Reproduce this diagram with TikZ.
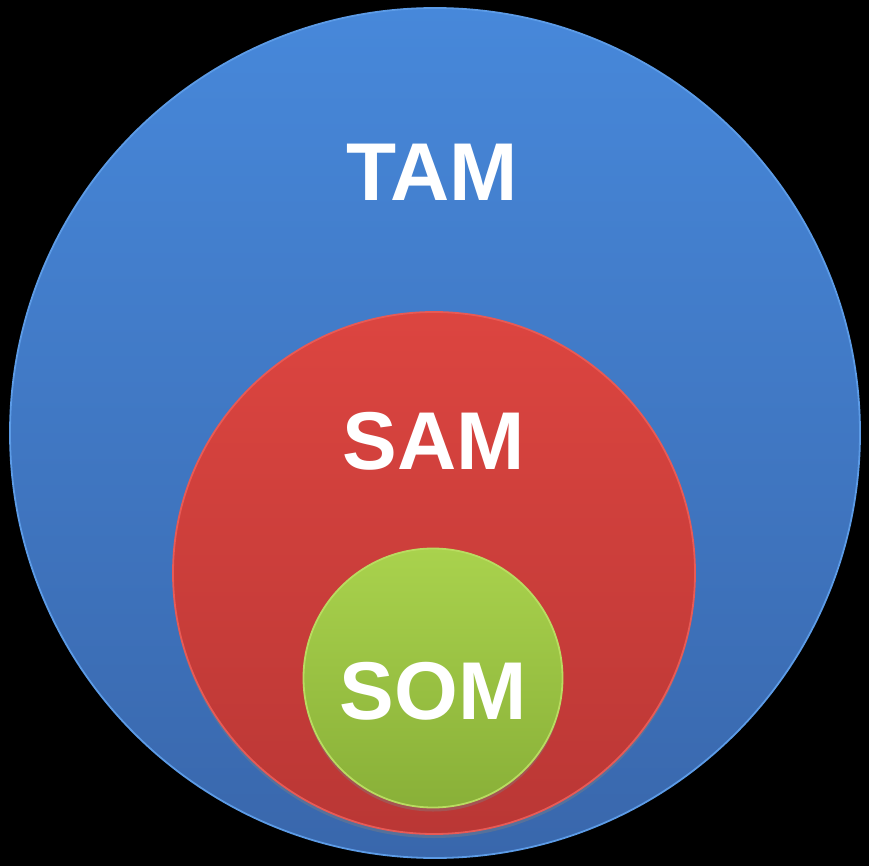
\documentclass[tikz,border=0pt]{standalone}
\usepackage{fontspec}
\setmainfont{Liberation Sans}
\usetikzlibrary{shadows}
\definecolor{bluetop}{HTML}{4788DA}
\definecolor{bluebot}{HTML}{3967AC}
\definecolor{bluerim}{HTML}{5C9BE6}
\definecolor{redtop}{HTML}{DC4540}
\definecolor{redbot}{HTML}{BA3735}
\definecolor{redrim}{HTML}{E85A55}
\definecolor{greentop}{HTML}{A9D24D}
\definecolor{greenbot}{HTML}{89B038}
\definecolor{greenrim}{HTML}{B9DC60}
\tikzset{
  ring/.style={circle, inner sep=0pt, minimum size=#1},
  lbl/.style={text=white, font=\bfseries\fontsize{82}{82}\selectfont, inner sep=0pt}
}
\begin{document}
\begin{tikzpicture}[x=1pt,y=-1pt]
\fill[black] (0,0) rectangle (869,866);
\useasboundingbox (0,0) rectangle (869,866);
\node[ring=850pt, top color=bluetop, bottom color=bluebot, draw=bluerim, line width=1.8pt] (tam) at (435,433) {};
\node[ring=522pt, top color=redtop, bottom color=redbot, draw=redrim, line width=1.8pt,
      drop shadow={shadow xshift=0pt, shadow yshift=-4pt, opacity=0.4}] (sam) at (434,573) {};
\node[ring=259pt, top color=greentop, bottom color=greenbot, draw=greenrim, line width=1.8pt,
      drop shadow={shadow xshift=0pt, shadow yshift=-4pt, opacity=0.4}] (som) at (433,678) {};
\node[lbl] (tamlbl) at (432,172) {TAM};
\node[lbl] (samlbl) at (434,441) {SAM};
\node[lbl] (somlbl) at (433,691) {SOM};
\end{tikzpicture}
\end{document}
